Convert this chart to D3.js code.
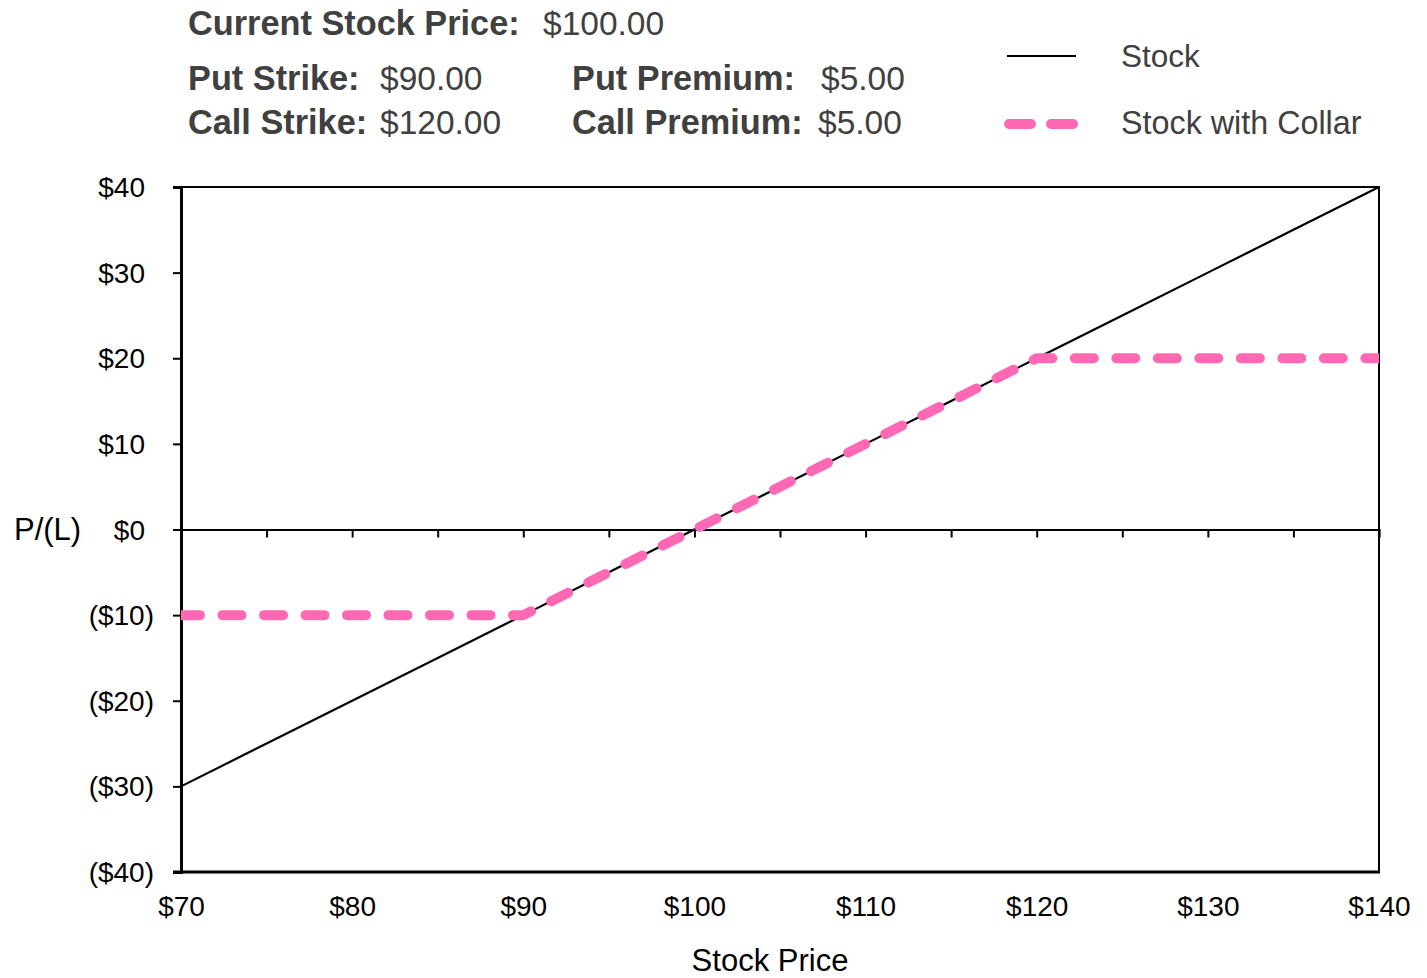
<!DOCTYPE html>
<html>
<head>
<meta charset="utf-8">
<script src="https://cdn.jsdelivr.net/npm/d3@7"></script>
<style>
  html, body { margin: 0; padding: 0; background: #fff; }
  svg { display: block; font-family: "Liberation Sans", Arial, sans-serif; }
</style>
</head>
<body>
<svg id="chart" width="1427" height="978"></svg>
<script>
// Stock prices at expiration and the resulting profit / loss
const stockPrices = [70, 75, 80, 85, 90, 95, 100, 105, 110, 115, 120, 125, 130, 135, 140];
const stockPL     = [-30, -25, -20, -15, -10, -5, 0, 5, 10, 15, 20, 25, 30, 35, 40];
const collarPL    = [-10, -10, -10, -10, -10, -5, 0, 5, 10, 15, 20, 20, 20, 20, 20];

const xTicks = [70, 80, 90, 100, 110, 120, 130, 140];
const xMinorTicks = [75, 80, 85, 90, 95, 100, 105, 110, 115, 120, 125, 130, 135];
const yTicks = [-40, -30, -20, -10, 0, 10, 20, 30, 40];

const seriesNames = ["Stock", "Stock with Collar"];
const headerLabels = ["Current Stock Price:", "Put Strike:", "Call Strike:", "Put Premium:", "Call Premium:"];
const headerValues = ["$100.00", "$90.00", "$120.00", "$5.00", "$5.00"];

const pink = "#FF69B4";
const textGrey = "#404040";

const svg = d3.select("#chart");
const margin = { top: 187, right: 48, bottom: 106, left: 181 };
const W = 1427, H = 978;
const innerW = W - margin.left - margin.right;
const innerH = H - margin.top - margin.bottom;

const x = d3.scaleLinear().domain([70, 140]).range([margin.left, margin.left + innerW]);
const y = d3.scaleLinear().domain([-40, 40]).range([margin.top + innerH, margin.top]);

const money = v => v < 0 ? `($${Math.abs(v)})` : `$${v}`;

// Plot frame (top and right edges)
svg.append("rect")
  .attr("x", x(70)).attr("y", y(40))
  .attr("width", x(140) - x(70)).attr("height", y(-40) - y(40))
  .attr("fill", "none").attr("stroke", "#000").attr("stroke-width", 2);

svg.append("defs").append("clipPath").attr("id", "plotClip")
  .append("rect")
  .attr("x", x(70)).attr("y", y(40) - 10)
  .attr("width", x(140) - x(70)).attr("height", y(-40) - y(40) + 20);

// Left value axis
const yAxis = svg.append("g")
  .attr("transform", `translate(${x(70)},0)`)
  .call(d3.axisLeft(y).tickValues(yTicks).tickSize(8).tickPadding(29).tickFormat(money));
yAxis.select(".domain").attr("stroke-width", 3);
yAxis.selectAll(".tick line").attr("stroke-width", 2);
yAxis.selectAll(".tick text")
  .attr("font-size", 28).attr("fill", "#000")
  .attr("x", d => d < 0 ? -27 : -36)
  .attr("dy", "0.34em");

// Bottom edge
svg.append("line")
  .attr("x1", x(70) - 8).attr("x2", x(140) + 1)
  .attr("y1", y(-40)).attr("y2", y(-40))
  .attr("stroke", "#000").attr("stroke-width", 3);

// Zero line with ticks hanging below it
const zeroAxis = svg.append("g")
  .attr("transform", `translate(0,${y(0)})`)
  .call(d3.axisBottom(x).tickValues(xMinorTicks).tickSize(8).tickFormat(""));
zeroAxis.select(".domain").attr("stroke-width", 2.2);
zeroAxis.selectAll(".tick line").attr("stroke-width", 2);

// Category labels along the bottom
svg.append("g")
  .attr("transform", `translate(0,${y(-40)})`)
  .call(d3.axisBottom(x).tickValues(xTicks).tickSize(0).tickPadding(24).tickFormat(d => `$${d}`))
  .call(g => g.select(".domain").remove())
  .selectAll("text").attr("font-size", 28).attr("fill", "#000");

// Axis titles
svg.append("text").attr("x", 14).attr("y", 540)
  .attr("font-size", 31).attr("fill", "#000").text("P/(L)");
svg.append("text").attr("x", 770).attr("y", 971)
  .attr("text-anchor", "middle").attr("font-size", 31).attr("fill", "#000").text("Stock Price");

// Series lines
const pts = (vals) => stockPrices.map((p, i) => [p, vals[i]]);
const line = d3.line().x(d => x(d[0])).y(d => y(d[1]));

const plot = svg.append("g").attr("clip-path", "url(#plotClip)");
plot.append("path")
  .attr("d", line(pts(stockPL)))
  .attr("fill", "none").attr("stroke", "#000").attr("stroke-width", 2.2);
plot.append("path")
  .attr("d", line(pts(collarPL)))
  .attr("fill", "none").attr("stroke", pink).attr("stroke-width", 10)
  .attr("stroke-linecap", "round").attr("stroke-linejoin", "round")
  .attr("stroke-dasharray", "19,22.5");

// Header block
const header = svg.append("g").attr("fill", textGrey);
const hdr = [
  { lx: 188, vx: 543, y: 35 },
  { lx: 188, vx: 380, y: 90 },
  { lx: 188, vx: 380, y: 134 },
  { lx: 572, vx: 821, y: 90 },
  { lx: 572, vx: 818, y: 134 }
];
hdr.forEach((h, i) => {
  header.append("text").attr("x", h.lx).attr("y", h.y)
    .attr("font-size", 34.3).attr("font-weight", "bold").text(headerLabels[i]);
  header.append("text").attr("x", h.vx).attr("y", h.y)
    .attr("font-size", 33.5).text(headerValues[i]);
});

// Legend
const legend = svg.append("g");
legend.append("line")
  .attr("x1", 1007).attr("x2", 1076).attr("y1", 56).attr("y2", 56)
  .attr("stroke", "#000").attr("stroke-width", 2.2);
legend.append("line")
  .attr("x1", 1009).attr("x2", 1074).attr("y1", 124).attr("y2", 124)
  .attr("stroke", pink).attr("stroke-width", 10)
  .attr("stroke-linecap", "round").attr("stroke-dasharray", "22,20");
legend.append("text").attr("x", 1121).attr("y", 67)
  .attr("font-size", 31.5).attr("fill", textGrey).text(seriesNames[0]);
legend.append("text").attr("x", 1121).attr("y", 134)
  .attr("font-size", 32.3).attr("fill", textGrey).text(seriesNames[1]);
</script>
</body>
</html>
